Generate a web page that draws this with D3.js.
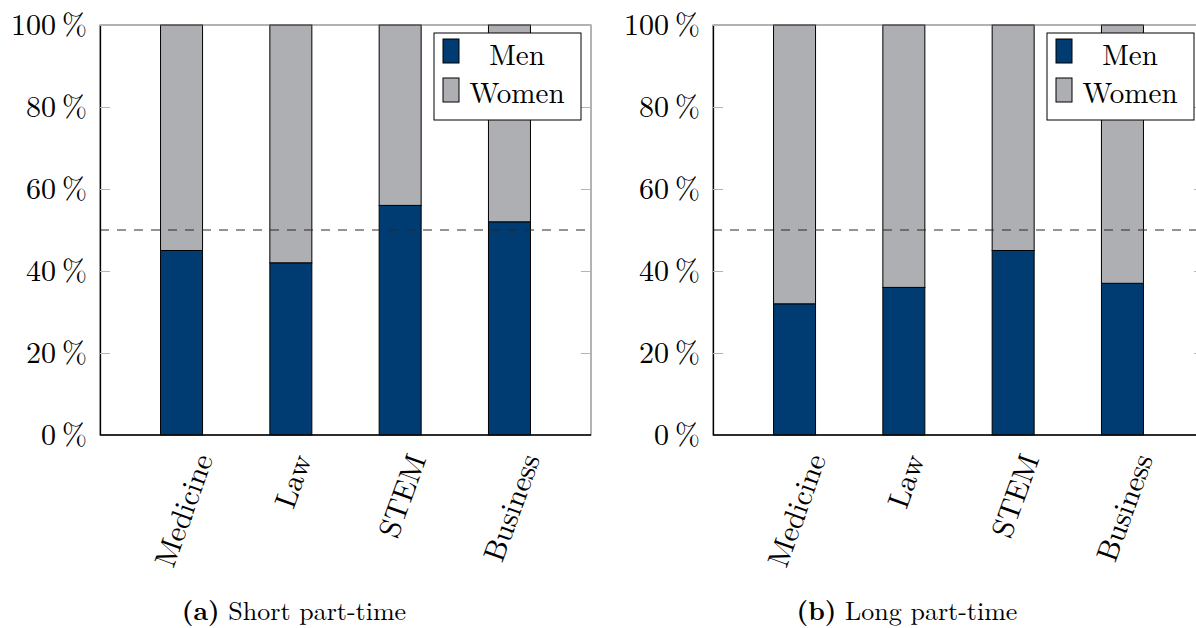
<!DOCTYPE html>
<html>
<head>
<meta charset="utf-8">
<script src="https://cdn.jsdelivr.net/npm/d3@7"></script>
<style>
  body { margin: 0; background: #fff; }
  svg { display: block; }
  text { font-family: "Latin Modern Roman", "Liberation Serif", serif; fill: #000; }
</style>
</head>
<body>
<div id="chart"></div>
<script>
// data
var categories = ["Medicine", "Law", "STEM", "Business"];
var shortMen   = [45, 42, 56, 52];
var shortWomen = [55, 58, 44, 48];
var longMen    = [32, 36, 45, 37];
var longWomen  = [68, 64, 55, 63];
var yTicks = [0, 20, 40, 60, 80, 100];
var seriesNames = ["Men", "Women"];
var captions = [["(a)", "Short part-time"], ["(b)", "Long part-time"]];

var svgWidth = 1196;
var svgHeight = 628;

var colors = { Men: "#003b71", Women: "#aeafb2" };

var svg = d3.select("#chart")
  .append("svg")
  .attr("width", svgWidth)
  .attr("height", svgHeight);

var panels = [
  { left: 100, men: shortMen, women: shortWomen, caption: captions[0], capX: 294 },
  { left: 713, men: longMen, women: longWomen, caption: captions[1], capX: 907 }
];

var plotW = 491;
var plotTop = 25;
var plotBottom = 435;

var y = d3.scaleLinear().domain([0, 100]).range([plotBottom, plotTop]);

panels.forEach(function(p) {
  var right = p.left + plotW;
  var x = d3.scalePoint()
    .domain(categories)
    .range([p.left, right])
    .padding(0.746);
  var barW = 42;

  var rows = categories.map(function(c, i) {
    return { cat: c, Men: p.men[i], Women: p.women[i] };
  });
  var stacked = d3.stack().keys(seriesNames)(rows);

  var g = svg.append("g");

  // stacked bars
  g.selectAll("g.series")
    .data(stacked)
    .enter()
    .append("g")
    .attr("fill", function(d) { return colors[d.key]; })
    .selectAll("rect")
    .data(function(d) { return d; })
    .enter()
    .append("rect")
    .attr("x", function(d) { return x(d.data.cat) - barW / 2; })
    .attr("y", function(d) { return y(d[1]); })
    .attr("width", barW)
    .attr("height", function(d) { return y(d[0]) - y(d[1]); })
    .attr("stroke", "#000")
    .attr("stroke-width", 1);

  // 50% reference line
  g.append("line")
    .attr("x1", p.left).attr("x2", right)
    .attr("y1", y(50)).attr("y2", y(50))
    .attr("stroke", "#2a2a2a")
    .attr("stroke-width", 1.2)
    .attr("stroke-dasharray", "9,8");

  // frame
  g.append("rect")
    .attr("x", p.left).attr("y", plotTop)
    .attr("width", plotW).attr("height", plotBottom - plotTop)
    .attr("fill", "none")
    .attr("stroke", "#666")
    .attr("stroke-width", 1);

  // left axis, ticks point inward
  var leftAxis = d3.axisLeft(y)
    .tickValues(yTicks)
    .tickSizeInner(-10)
    .tickSizeOuter(0)
    .tickPadding(13)
    .tickFormat(function(d) { return d + "\u2009%"; });

  var ya = g.append("g")
    .attr("transform", "translate(" + p.left + ",0)")
    .call(leftAxis);
  ya.attr("font-family", null).attr("font-size", null);
  ya.select(".domain").attr("stroke", "#000").attr("stroke-width", 1.3);
  ya.selectAll(".tick line").attr("stroke", "#b3b3b3").attr("stroke-width", 1);
  ya.selectAll(".tick text")
    .attr("font-size", 30)
    .attr("dy", "0.33em");

  var rightAxis = d3.axisRight(y)
    .tickValues(yTicks)
    .tickSizeInner(-10)
    .tickSizeOuter(0)
    .tickFormat("");
  var ra = g.append("g")
    .attr("transform", "translate(" + right + ",0)")
    .call(rightAxis);
  ra.select(".domain").remove();
  ra.selectAll(".tick line").attr("stroke", "#b3b3b3");

  // bottom axis line
  g.append("line")
    .attr("x1", p.left).attr("x2", right)
    .attr("y1", plotBottom).attr("y2", plotBottom)
    .attr("stroke", "#000")
    .attr("stroke-width", 1.3);

  // rotated category labels: bbox centred under bar
  categories.forEach(function(c) {
    var t = g.append("text")
      .attr("font-size", 30)
      .text(c);
    var b = t.node().getBBox();
    var a = -70 * Math.PI / 180;
    var pts = [[b.x, b.y], [b.x + b.width, b.y], [b.x, b.y + b.height], [b.x + b.width, b.y + b.height]]
      .map(function(q) {
        return [q[0] * Math.cos(a) - q[1] * Math.sin(a), q[0] * Math.sin(a) + q[1] * Math.cos(a)];
      });
    var minX = d3.min(pts, function(q) { return q[0]; });
    var maxX = d3.max(pts, function(q) { return q[0]; });
    var minY = d3.min(pts, function(q) { return q[1]; });
    t.attr("transform", "translate(" + (x(c) - (minX + maxX) / 2) + "," + (447 - minY) + ") rotate(-70)");
  });

  // legend
  var lx = right - 157;
  var legend = g.append("g").attr("transform", "translate(" + lx + ",33)");
  legend.append("rect")
    .attr("width", 147).attr("height", 87)
    .attr("fill", "#fff")
    .attr("stroke", "#000")
    .attr("stroke-width", 1);
  seriesNames.forEach(function(s, i) {
    legend.append("rect")
      .attr("x", 9).attr("y", 6 + i * 39)
      .attr("width", 16).attr("height", 24)
      .attr("fill", colors[s])
      .attr("stroke", "#000")
      .attr("stroke-width", 1);
    legend.append("text")
      .attr("x", 83).attr("y", 32 + i * 38)
      .attr("text-anchor", "middle")
      .attr("font-size", 29)
      .text(s);
  });

  // caption
  var cap = svg.append("text")
    .attr("x", p.capX).attr("y", 620)
    .attr("text-anchor", "middle")
    .attr("font-size", 26);
  cap.append("tspan").attr("font-weight", "bold").text(p.caption[0]);
  cap.append("tspan").text(" " + p.caption[1]);
});
</script>
</body>
</html>
